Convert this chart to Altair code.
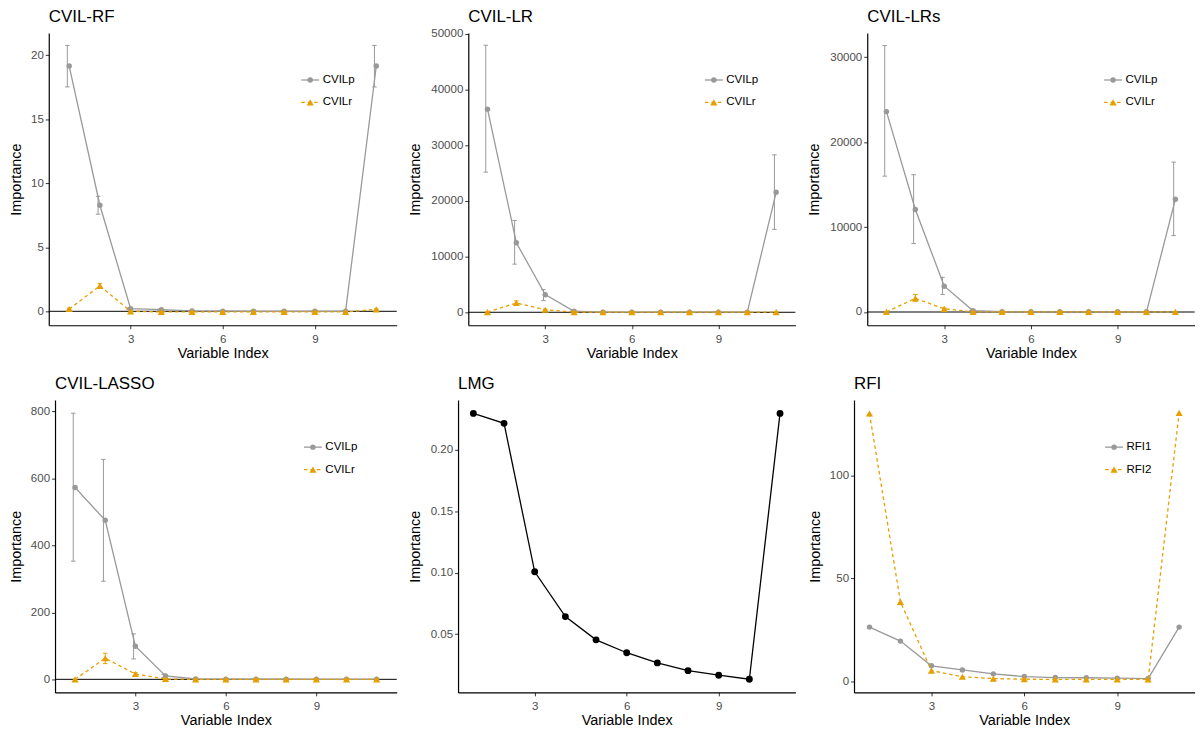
import altair as alt
import pandas as pd

FONT = "Liberation Sans"
GREY = "#999999"
ORANGE = "#E69F00"
DASH = [3.5, 3]
LW = 1.3

index = list(range(1, 12))

# ---------------- CVIL-RF ----------------
rf_p = [19.15, 8.28, 0.20, 0.13, 0.03, 0.01, 0.00, 0.00, 0.00, 0.00, 19.15]
rf_p_lo = [17.52, 7.58, 0.14, 0.09, 0.00, -0.01, -0.02, -0.02, -0.02, -0.02, 17.52]
rf_p_hi = [20.76, 8.98, 0.26, 0.17, 0.06, 0.03, 0.02, 0.02, 0.02, 0.02, 20.76]
rf_r = [0.18, 1.98, 0.00, -0.05, -0.05, -0.05, -0.05, -0.05, -0.05, -0.05, 0.15]
rf_r_lo = [0.12, 1.80, -0.03, -0.07, -0.07, -0.07, -0.07, -0.07, -0.07, -0.07, 0.10]
rf_r_hi = [0.24, 2.16, 0.03, -0.03, -0.03, -0.03, -0.03, -0.03, -0.03, -0.03, 0.20]

# ---------------- CVIL-LR ----------------
lr_p = [36440, 12480, 3160, 180, 30, 20, 20, 20, 20, 20, 21520]
lr_p_lo = [25140, 8630, 2090, 120, 10, 10, 10, 10, 10, 10, 14870]
lr_p_hi = [47900, 16470, 4050, 240, 50, 30, 30, 30, 30, 30, 28240]
lr_r = [30, 1660, 450, 30, 20, 20, 20, 20, 20, 20, 20]
lr_r_lo = [10, 1250, 330, 10, 10, 10, 10, 10, 10, 10, 10]
lr_r_hi = [50, 2050, 570, 50, 30, 30, 30, 30, 30, 30, 30]

# ---------------- CVIL-LRs ----------------
lrs_p = [23600, 12080, 3040, 150, 30, 20, 20, 20, 20, 20, 13290]
lrs_p_lo = [16000, 8060, 2070, 100, 10, 10, 10, 10, 10, 10, 9000]
lrs_p_hi = [31370, 16170, 4090, 200, 50, 30, 30, 30, 30, 30, 17650]
lrs_r = [20, 1600, 380, 20, 10, 10, 10, 10, 10, 10, 10]
lrs_r_lo = [10, 1290, 280, 10, 5, 5, 5, 5, 5, 5, 5]
lrs_r_hi = [30, 2070, 480, 30, 15, 15, 15, 15, 15, 15, 15]

# ---------------- CVIL-LASSO ----------------
lasso_p = [573, 475, 99, 10, 1.0, 0.5, 0.3, 0.2, 0.1, 0.1, 0.1]
lasso_p_lo = [353, 293, 61, 5, 0.5, 0.2, 0.1, 0.1, 0.0, 0.0, 0.0]
lasso_p_hi = [795, 657, 136, 15, 1.5, 0.8, 0.5, 0.3, 0.2, 0.2, 0.2]
lasso_r = [0, 63, 16, 1, 0, 0, 0, 0, 0, 0, 0]
lasso_r_lo = [0, 47, 12, 0, 0, 0, 0, 0, 0, 0, 0]
lasso_r_hi = [0, 78, 20, 2, 0, 0, 0, 0, 0, 0, 0]

# ---------------- LMG ----------------
lmg = [0.2297, 0.2216, 0.1007, 0.0642, 0.0453, 0.0348, 0.0265, 0.0202, 0.0165, 0.0132, 0.2297]

# ---------------- RFI ----------------
rfi1 = [26.4, 19.6, 7.6, 5.6, 3.7, 2.4, 1.9, 1.8, 1.6, 1.4, 26.4]
rfi2 = [130.1, 38.6, 5.3, 2.3, 1.4, 1.1, 1.0, 1.0, 1.0, 1.0, 130.4]

# ---------------- layout (pixels) ----------------
COL_W = [350, 343.7, 342.6]
ROW_H = 294
CIRC = 30
TRI = 52


def make_axes(r0, ext, title_pad, ticks, fmt):
    xaxis = alt.Axis(title="Variable Index", values=[3, 6, 9], format="d",
                     titlePadding=2)
    yaxis = alt.Axis(title="Importance", values=ticks, format=fmt,
                     offset=-r0, minExtent=ext, maxExtent=ext,
                     titlePadding=title_pad)
    return xaxis, yaxis


def series(x, y, color, shape, dash, size, xs, ys, xa, ya):
    df = pd.DataFrame({"x": x, "y": y})
    line_kw = dict(color=color, strokeWidth=LW)
    if dash:
        line_kw["strokeDash"] = dash
    enc = dict(x=alt.X("x:Q", scale=xs, axis=xa), y=alt.Y("y:Q", scale=ys, axis=ya))
    line = alt.Chart(df).mark_line(**line_kw).encode(**enc)
    pts = alt.Chart(df).mark_point(shape=shape, filled=True, color=color,
                                   size=size, opacity=1).encode(**enc)
    return [line, pts]


def errbars(x, lo, hi, color, shift, xs, ys, xa, ya):
    df = pd.DataFrame({"x": [v + shift for v in x], "lo": lo, "hi": hi})
    rule = alt.Chart(df).mark_rule(color=color, strokeWidth=1).encode(
        x=alt.X("x:Q", scale=xs, axis=xa),
        y=alt.Y("lo:Q", scale=ys, axis=ya), y2="hi:Q")
    cap_lo = alt.Chart(df).mark_tick(color=color, orient="horizontal",
                                     size=4.5, thickness=1, opacity=1).encode(
        x=alt.X("x:Q", scale=xs, axis=xa), y=alt.Y("lo:Q", scale=ys, axis=ya))
    cap_hi = alt.Chart(df).mark_tick(color=color, orient="horizontal",
                                     size=4.5, thickness=1, opacity=1).encode(
        x=alt.X("x:Q", scale=xs, axis=xa), y=alt.Y("hi:Q", scale=ys, axis=ya))
    return [rule, cap_lo, cap_hi]


def zero_line(r0, r1, ys, ya):
    df = pd.DataFrame({"y": [0]})
    return alt.Chart(df).mark_rule(color="black", strokeWidth=1).encode(
        y=alt.Y("y:Q", scale=ys, axis=ya), x=alt.value(r0), x2=alt.value(r1))


def legend(entries, x0, y0):
    layers = []
    for i, (label, color, shape, dash, size) in enumerate(entries):
        y = y0 + i * 22.6
        d = pd.DataFrame({"label": [label]})
        kw = dict(color=color, strokeWidth=LW)
        if dash:
            kw["strokeDash"] = dash
        layers.append(alt.Chart(d).mark_rule(**kw).encode(
            x=alt.value(x0), x2=alt.value(x0 + 18), y=alt.value(y)))
        layers.append(alt.Chart(d).mark_point(shape=shape, filled=True, color=color,
                                              size=size, opacity=1).encode(
            x=alt.value(x0 + 9), y=alt.value(y)))
        layers.append(alt.Chart(d).mark_text(align="left", baseline="middle",
                                             font=FONT, fontSize=11.6,
                                             color="black").encode(
            x=alt.value(x0 + 21.5), y=alt.value(y), text="label:N"))
    return layers


def title(text, r0):
    d = pd.DataFrame({"t": [text]})
    return alt.Chart(d).mark_text(align="left", baseline="alphabetic", font=FONT,
                                  fontSize=17, color="black").encode(
        x=alt.value(r0), y=alt.value(-11), text="t:N")


def cvil_panel(name, p, plo, phi, r, rlo, rhi, col, r0, r1, ext, ydom, ticks, legx):
    xs = alt.Scale(domain=[0.335, 11.665], range=[r0, r1], nice=False, zero=False)
    ys = alt.Scale(domain=ydom, nice=False, zero=False)
    xa, ya = make_axes(r0, ext - 4, 4, ticks, "d")
    layers = [zero_line(r0, r1, ys, ya)]
    layers += errbars(index, plo, phi, GREY, -0.06, xs, ys, xa, ya)
    layers += series(index, p, GREY, "circle", None, CIRC, xs, ys, xa, ya)
    layers += errbars(index, rlo, rhi, ORANGE, 0.0, xs, ys, xa, ya)
    layers += series(index, r, ORANGE, "triangle-up", DASH, TRI, xs, ys, xa, ya)
    layers += legend([("CVILp", GREY, "circle", None, CIRC),
                      ("CVILr", ORANGE, "triangle-up", DASH, TRI)], legx, 47.3)
    layers.append(title(name, r0))
    return alt.layer(*layers).properties(width=COL_W[col], height=ROW_H)


p1 = cvil_panel("CVIL-RF", rf_p, rf_p_lo, rf_p_hi, rf_r, rf_r_lo, rf_r_hi,
                0, 0, 350, 25, [-1.09, 21.73], [0, 5, 10, 15, 20], 254)
p2 = cvil_panel("CVIL-LR", lr_p, lr_p_lo, lr_p_hi, lr_r, lr_r_lo, lr_r_hi,
                1, 14, 343, 45.7, [-2330, 50100], [0, 10000, 20000, 30000, 40000, 50000], 252)
p3 = cvil_panel("CVIL-LRs", lrs_p, lrs_p_lo, lrs_p_hi, lrs_r, lrs_r_lo, lrs_r_hi,
                2, 13.3, 342.6, 45.7, [-1560, 32860], [0, 10000, 20000, 30000], 251.6)
p4 = cvil_panel("CVIL-LASSO", lasso_p, lasso_p_lo, lasso_p_hi, lasso_r, lasso_r_lo, lasso_r_hi,
                0, 6.3, 350, 31.6, [-39, 834], [0, 200, 400, 600, 800], 256.7)

# LMG panel
xs5 = alt.Scale(domain=[0.5, 11.5], range=[3.7, 343], nice=False, zero=False)
ys5 = alt.Scale(domain=[0.0025, 0.2405], nice=False, zero=False)
xa5, ya5 = make_axes(3.7, 35.4 - 4, 4, [0.05, 0.10, 0.15, 0.20], ".2f")
l5 = series(index, lmg, "black", "circle", None, 48, xs5, ys5, xa5, ya5)
l5.append(title("LMG", 3.7))
p5 = alt.layer(*l5).properties(width=COL_W[1], height=ROW_H)

# RFI panel
xs6 = alt.Scale(domain=[0.5, 11.5], range=[0, 342.6], nice=False, zero=False)
ys6 = alt.Scale(domain=[-5.3, 136.6], nice=False, zero=False)
xa6, ya6 = make_axes(0, 31.7 - 4, 4, [0, 50, 100], "d")
l6 = series(index, rfi1, GREY, "circle", None, CIRC, xs6, ys6, xa6, ya6)
l6 += series(index, rfi2, ORANGE, "triangle-up", DASH, TRI, xs6, ys6, xa6, ya6)
l6 += legend([("RFI1", GREY, "circle", None, CIRC),
              ("RFI2", ORANGE, "triangle-up", DASH, TRI)], 252.6, 47.3)
l6.append(title("RFI", 0))
p6 = alt.layer(*l6).properties(width=COL_W[2], height=ROW_H)

chart = alt.concat(p1, p2, p3, p4, p5, p6, columns=3,
                   spacing={"row": 75.3, "column": 58}, bounds="flush").properties(
    padding={"left": 0, "top": -2, "right": 0, "bottom": 0}
).configure_view(stroke=None).configure_axis(
    grid=False, domainColor="black", domainWidth=1.2, tickColor="#333333",
    tickSize=3.5, tickWidth=1, labelPadding=3, labelColor="#4D4D4D",
    labelFont=FONT, labelFontSize=11.6, titleFont=FONT, titleFontSize=14.5,
    titleFontWeight="normal", titleColor="black"
).configure_axisX(labelPadding=4.5).configure_axisY(labelPadding=2)

chart.save("out.html", embed_options={"renderer": "svg", "actions": False})
